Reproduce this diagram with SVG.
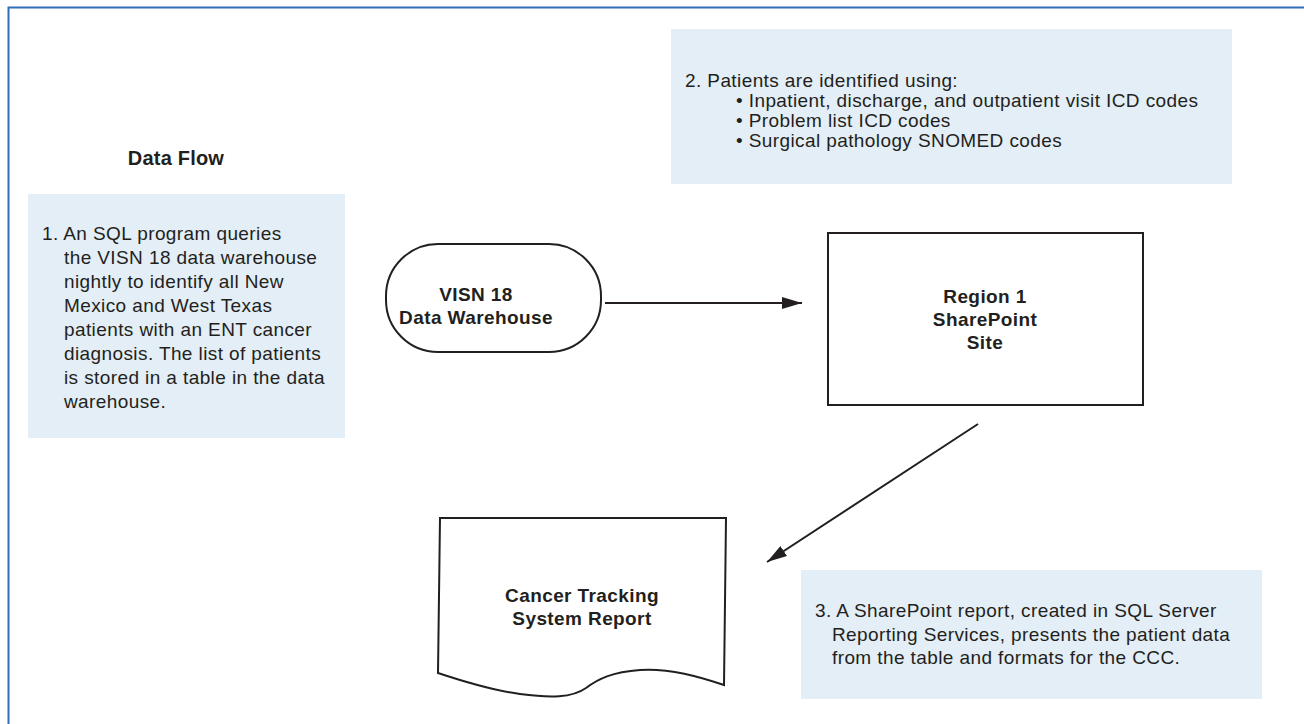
<svg xmlns="http://www.w3.org/2000/svg" width="1304" height="724" viewBox="0 0 1304 724">
<style>
.note{fill:#e3eef6;stroke:none}
.t{font-family:"Liberation Sans",Arial,Helvetica,sans-serif;font-size:19px;letter-spacing:0.4px;fill:#231f20}
.b{font-family:"Liberation Sans",Arial,Helvetica,sans-serif;font-size:19px;letter-spacing:0.4px;font-weight:bold;fill:#231f20;text-anchor:middle}
.shape{fill:#fff;stroke:#231f20;stroke-width:2}
.conn{stroke:#231f20;stroke-width:2;fill:none}
</style>
<defs>
<marker id="ah" viewBox="0 0 20 12" refX="20" refY="6" markerWidth="20" markerHeight="12" markerUnits="userSpaceOnUse" orient="auto">
<path d="M0,0 L20,6 L0,12 Z" fill="#231f20"/>
</marker>
</defs>
<rect width="1304" height="724" fill="#fff"/>
<path d="M8.5,730 L8.5,7.5 L1310,7.5" fill="none" stroke="#2f6fba" stroke-width="2"/>
<text class="b" x="176" y="165" style="font-size:20px;letter-spacing:0.2px">Data Flow</text>

<g id="note1">
<rect class="note" x="28" y="194" width="317" height="244"/>
<text class="t" x="42" y="240">1. An SQL program queries</text>
<text class="t" x="64" y="264">the VISN 18 data warehouse</text>
<text class="t" x="64" y="288">nightly to identify all New</text>
<text class="t" x="64" y="312">Mexico and West Texas</text>
<text class="t" x="64" y="336">patients with an ENT cancer</text>
<text class="t" x="64" y="360">diagnosis. The list of patients</text>
<text class="t" x="64" y="384">is stored in a table in the data</text>
<text class="t" x="64" y="408">warehouse.</text>
</g>

<g id="note2">
<rect class="note" x="671" y="29" width="561" height="155"/>
<text class="t" x="685" y="87">2. Patients are identified using:</text>
<text class="t" x="736" y="107">• Inpatient, discharge, and outpatient visit ICD codes</text>
<text class="t" x="736" y="127">• Problem list ICD codes</text>
<text class="t" x="736" y="147">• Surgical pathology SNOMED codes</text>
</g>

<g id="note3">
<rect class="note" x="801" y="570" width="461" height="129"/>
<text class="t" x="815" y="617">3. A SharePoint report, created in SQL Server</text>
<text class="t" x="832" y="641">Reporting Services, presents the patient data</text>
<text class="t" x="832" y="664">from the table and formats for the CCC.</text>
</g>

<g id="visn">
<rect class="shape" x="386" y="244" width="215" height="108" rx="52" ry="52"/>
<text class="b" x="476" y="301">VISN 18</text>
<text class="b" x="476" y="324">Data Warehouse</text>
</g>

<g id="region">
<rect class="shape" x="828" y="233" width="315" height="172"/>
<text class="b" x="985" y="303">Region 1</text>
<text class="b" x="985" y="326">SharePoint</text>
<text class="b" x="985" y="349">Site</text>
</g>

<g id="report">
<path class="shape" d="M440,518 L726,518 L724,685 C700,677 670,668 640,670 C612,672 598,679 586,688 C572,698 550,698 520,694 C490,690 462,681 438,673 Z"/>
<text class="b" x="582" y="602">Cancer Tracking</text>
<text class="b" x="582" y="625">System Report</text>
</g>

<g id="connectors">
<line class="conn" x1="605" y1="303" x2="802" y2="303" marker-end="url(#ah)"/>
<line class="conn" x1="978" y1="424" x2="767" y2="562" marker-end="url(#ah)"/>
</g>
</svg>
